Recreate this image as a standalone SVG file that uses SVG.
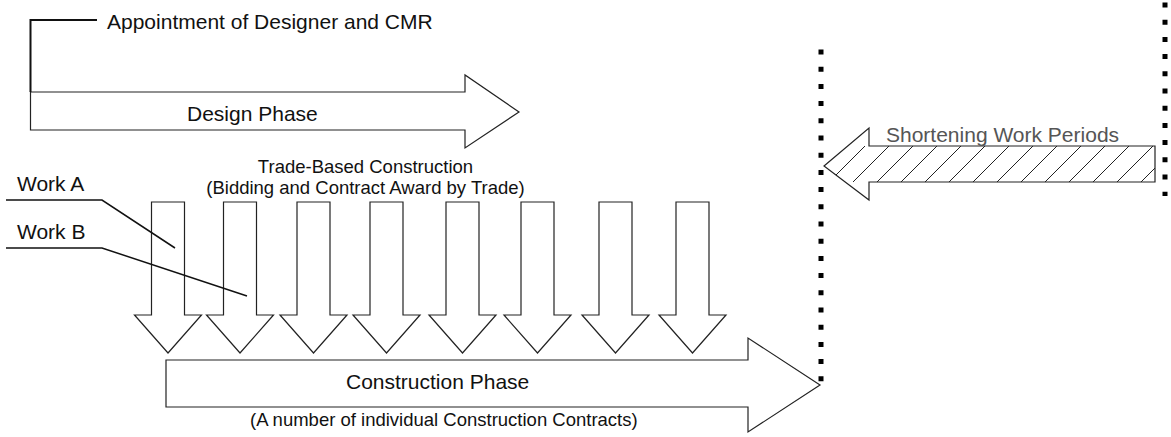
<svg xmlns="http://www.w3.org/2000/svg" width="1171" height="437" viewBox="0 0 1171 437">
  <style>
    .shape { fill: #fff; stroke: #222; stroke-width: 1.2; stroke-linejoin: miter; }
    .lbl { font-family: "Liberation Sans", Arial, sans-serif; font-size: 21px; fill: #111; }
    .sub { font-family: "Liberation Sans", Arial, sans-serif; font-size: 18.5px; fill: #111; }
    .grey { fill: #555; }
    .leader { fill: none; stroke: #111; stroke-width: 1.5; }
    .dots { fill: none; stroke: #000; stroke-width: 5; stroke-dasharray: 5 12.2; }
    .hatch { stroke: #222; stroke-width: 1; }
  </style>
  <defs>
    <!-- single downward trade arrow, origin at top centre of the shaft -->
    <path id="tradeArrow" d="M-16.5,0 H16.5 V113 H33.5 L0,151 L-33.5,113 H-16.5 Z"/>
    <clipPath id="shortClip">
      <path d="M1155,146 H869 V128 L824,166 L869,200 V182 H1155 Z"/>
    </clipPath>
  </defs>

  <!-- dotted period boundaries -->
  <g id="boundaries">
    <line class="dots" x1="821" y1="49.5" x2="821" y2="382"/>
    <line class="dots" x1="1165" y1="2.5" x2="1165" y2="196"/>
  </g>

  <g id="design-phase">
    <path class="shape" d="M30.5,92 H465 V75 L519,112 L465,148 V130 H30.5 Z"/>
    <text class="lbl" x="187" y="121">Design Phase</text>
  </g>

  <g id="appointment">
    <text class="lbl" x="107" y="29">Appointment of Designer and CMR</text>
  </g>

  <g id="trade-header">
    <text class="sub" x="365.5" y="173" text-anchor="middle">Trade-Based Construction</text>
    <text class="sub" x="365.5" y="194" text-anchor="middle">(Bidding and Contract Award by Trade)</text>
  </g>

  <g id="trade-arrows">
    <use class="shape" href="#tradeArrow" transform="translate(168,202)"/>
    <use class="shape" href="#tradeArrow" transform="translate(240,202)"/>
    <use class="shape" href="#tradeArrow" transform="translate(313.5,202)"/>
    <use class="shape" href="#tradeArrow" transform="translate(386.5,202)"/>
    <use class="shape" href="#tradeArrow" transform="translate(462.5,202)"/>
    <use class="shape" href="#tradeArrow" transform="translate(537.5,202)"/>
    <use class="shape" href="#tradeArrow" transform="translate(615.5,202)"/>
    <use class="shape" href="#tradeArrow" transform="translate(692.5,202)"/>
  </g>

  <g id="construction-phase">
    <path class="shape" d="M166,360 H748 V338 L820,385 L748,432 V407 H166 Z"/>
    <text class="lbl" x="346" y="389">Construction Phase</text>
    <text class="sub" x="250" y="426">(A number of individual Construction Contracts)</text>
  </g>

  <g id="shortening">
    <path d="M1155,146 H869 V128 L824,166 L869,200 V182 H1155 Z" fill="#fff"/>
    <g clip-path="url(#shortClip)">
      <line class="hatch" x1="829" y1="182" x2="865" y2="146"/>
      <line class="hatch" x1="853" y1="182" x2="889" y2="146"/>
      <line class="hatch" x1="877" y1="182" x2="913" y2="146"/>
      <line class="hatch" x1="901" y1="182" x2="937" y2="146"/>
      <line class="hatch" x1="925" y1="182" x2="961" y2="146"/>
      <line class="hatch" x1="949" y1="182" x2="985" y2="146"/>
      <line class="hatch" x1="973" y1="182" x2="1009" y2="146"/>
      <line class="hatch" x1="997" y1="182" x2="1033" y2="146"/>
      <line class="hatch" x1="1021" y1="182" x2="1057" y2="146"/>
      <line class="hatch" x1="1045" y1="182" x2="1081" y2="146"/>
      <line class="hatch" x1="1069" y1="182" x2="1105" y2="146"/>
      <line class="hatch" x1="1093" y1="182" x2="1129" y2="146"/>
      <line class="hatch" x1="1117" y1="182" x2="1153" y2="146"/>
      <line class="hatch" x1="1141" y1="182" x2="1177" y2="146"/>
    </g>
    <path d="M1155,146 H869 V128 L824,166 L869,200 V182 H1155 Z" fill="none" stroke="#222" stroke-width="1.2"/>
    <text class="lbl grey" x="886" y="142">Shortening Work Periods</text>
  </g>

  <g id="work-labels">
    <text class="lbl" x="17" y="191">Work A</text>
    <text class="lbl" x="17" y="239">Work B</text>
  </g>

  <g id="connectors">
    <polyline class="leader" points="30.5,92 30.5,20 97,20" style="stroke-width:2"/>
    <polyline class="leader" points="6,200 102,200 175,248"/>
    <polyline class="leader" points="6,248 102,248 247,296"/>
  </g>
</svg>
